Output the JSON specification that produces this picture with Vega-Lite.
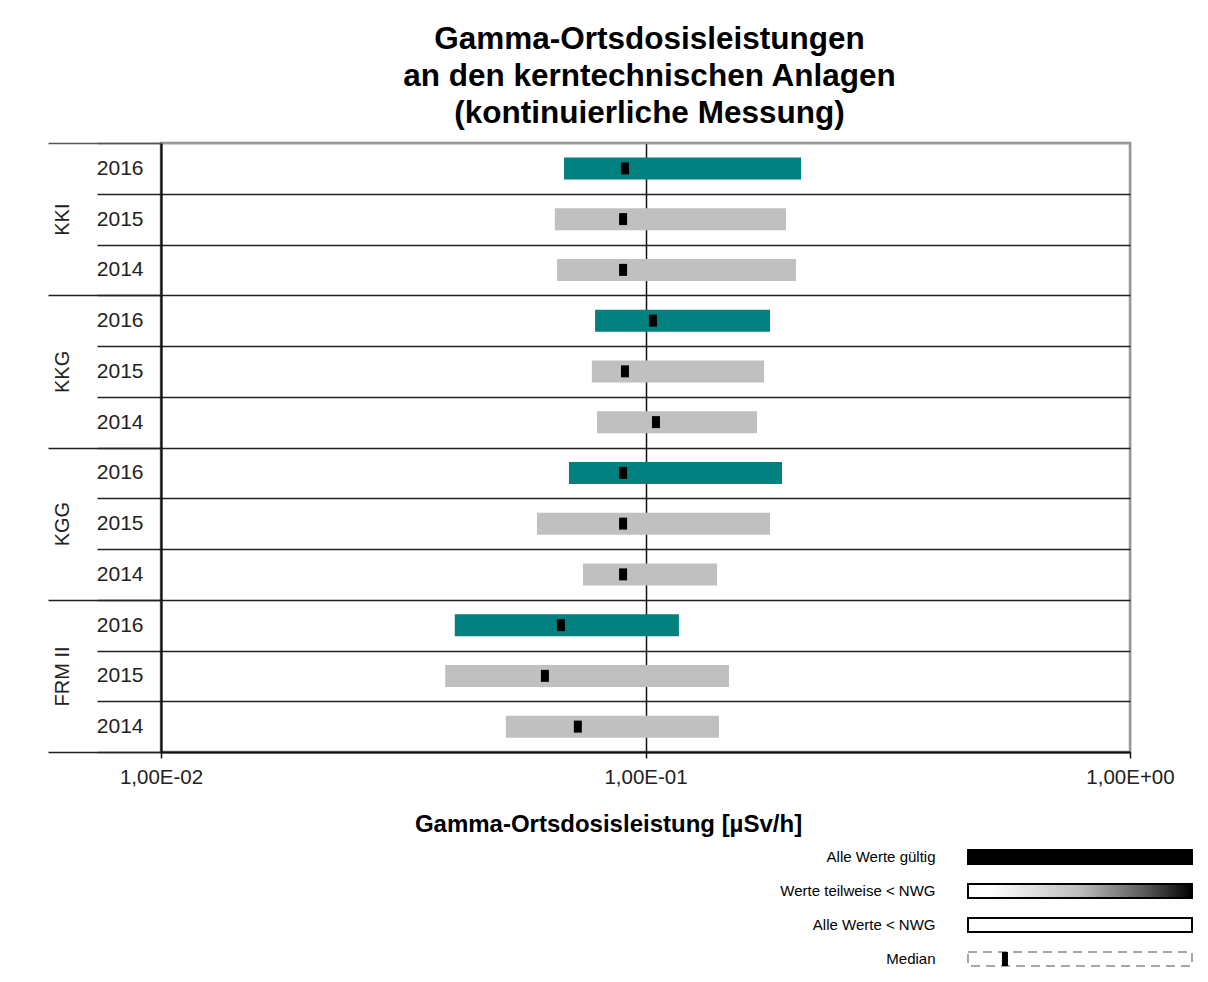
{
  "$schema": "https://vega.github.io/schema/vega-lite/v6.json",
  "padding": {"left": 46, "top": 24, "right": 5, "bottom": 5},
  "title": {
    "text": ["Gamma-Ortsdosisleistungen", "an den kerntechnischen Anlagen", "(kontinuierliche Messung)"],
    "fontSize": 31.5, "fontWeight": "bold", "lineHeight": 37, "anchor": "middle", "offset": 1, "color": "black", "dx": 30
  },
  "bounds": "flush",
  "spacing": 88,
  "vconcat": [
    {
      "width": 969,
      "height": 609,
      "data": {"values": [
        {"Anlage": "KKI", "Jahr": "2016", "Zeile": "KKI 2016", "min": 0.0679, "max": 0.2094, "median": 0.0907},
        {"Anlage": "KKI", "Jahr": "2015", "Zeile": "KKI 2015", "min": 0.0650, "max": 0.1950, "median": 0.0899},
        {"Anlage": "KKI", "Jahr": "2014", "Zeile": "KKI 2014", "min": 0.0657, "max": 0.2045, "median": 0.0899},
        {"Anlage": "KKG", "Jahr": "2016", "Zeile": "KKG 2016", "min": 0.0787, "max": 0.1807, "median": 0.1036},
        {"Anlage": "KKG", "Jahr": "2015", "Zeile": "KKG 2015", "min": 0.0775, "max": 0.1757, "median": 0.0907},
        {"Anlage": "KKG", "Jahr": "2014", "Zeile": "KKG 2014", "min": 0.0794, "max": 0.1699, "median": 0.1051},
        {"Anlage": "KGG", "Jahr": "2016", "Zeile": "KGG 2016", "min": 0.0695, "max": 0.1913, "median": 0.0899},
        {"Anlage": "KGG", "Jahr": "2015", "Zeile": "KGG 2015", "min": 0.0597, "max": 0.1807, "median": 0.0899},
        {"Anlage": "KGG", "Jahr": "2014", "Zeile": "KGG 2014", "min": 0.0743, "max": 0.1405, "median": 0.0899},
        {"Anlage": "FRM II", "Jahr": "2016", "Zeile": "FRM II 2016", "min": 0.0404, "max": 0.1172, "median": 0.0669},
        {"Anlage": "FRM II", "Jahr": "2015", "Zeile": "FRM II 2015", "min": 0.0386, "max": 0.1487, "median": 0.0620},
        {"Anlage": "FRM II", "Jahr": "2014", "Zeile": "FRM II 2014", "min": 0.0515, "max": 0.1418, "median": 0.0725}
      ]},
      "layer": [
        {
          "layer": [
            {
              "mark": {"type": "bar", "size": 22},
              "encoding": {
                "y": {
                  "field": "Zeile", "type": "nominal", "sort": null,
                  "scale": {"domain": ["KKI 2016", "KKI 2015", "KKI 2014", "KKG 2016", "KKG 2015", "KKG 2014", "KGG 2016", "KGG 2015", "KGG 2014", "FRM II 2016", "FRM II 2015", "FRM II 2014"], "paddingInner": 0, "paddingOuter": 0},
                  "axis": {
                    "title": null,
                    "labelExpr": "slice(datum.label, -4)",
                    "tickBand": "extent",
                    "ticks": true,
                    "tickSize": 64,
                    "tickWidth": 1.5,
                    "tickColor": {"condition": {"test": "datum.extra", "value": "#555"}, "value": "#222"},
                    "grid": true,
                    "gridWidth": 1.5,
                    "gridColor": {"condition": {"test": "datum.extra", "value": "#999"}, "value": "#222"},
                    "domain": true,
                    "domainColor": "#111",
                    "domainWidth": 2,
                    "labelPadding": -46,
                    "labelFontSize": 21,
                    "labelColor": "#222",
                    "labelAlign": "right",
                    "labelBaseline": "middle"
                  }
                },
                "x": {
                  "field": "min", "type": "quantitative",
                  "scale": {"type": "log", "domain": [0.01, 1], "nice": false},
                  "axis": {
                    "title": "Gamma-Ortsdosisleistung [µSv/h]",
                    "values": [0.01, 0.1, 1],
                    "labelExpr": "datum.value < 0.05 ? '1,00E-02' : (datum.value < 0.5 ? '1,00E-01' : '1,00E+00')",
                    "grid": true,
                    "gridWidth": 1.5,
                    "gridColor": {"condition": {"test": "datum.value >= 0.5", "value": "#999"}, "value": "#111"},
                    "domainColor": "#111",
                    "domainWidth": 2,
                    "tickColor": "#111",
                    "tickSize": 6,
                    "tickWidth": 1.5,
                    "labelFontSize": 20.5,
                    "labelColor": "#222",
                    "labelPadding": 9,
                    "labelFlush": false,
                    "labelOverlap": false,
                    "titleFontSize": 24,
                    "titleFontWeight": "bold",
                    "titleColor": "black",
                    "titlePadding": 25,
                    "titleX": 447
                  }
                },
                "x2": {"field": "max"},
                "color": {
                  "field": "Jahr", "type": "nominal",
                  "scale": {"domain": ["2016", "2015", "2014"], "range": ["#00807F", "#C0C0C0", "#C0C0C0"]},
                  "legend": null
                }
              }
            },
            {
              "mark": {"type": "tick", "thickness": 8, "size": 12, "color": "black", "opacity": 1},
              "encoding": {
                "y": {"field": "Zeile", "type": "nominal"},
                "x": {"field": "median", "type": "quantitative"}
              }
            }
          ]
        },
        {
          "data": {"values": [{"Anlage": "KKI"}, {"Anlage": "KKG"}, {"Anlage": "KGG"}, {"Anlage": "FRM II"}]},
          "mark": {"type": "bar", "opacity": 0},
          "encoding": {
            "y": {
              "field": "Anlage", "type": "nominal", "sort": null,
              "scale": {"type": "band", "domain": ["KKI", "KKG", "KGG", "FRM II"], "paddingInner": 0, "paddingOuter": 0},
              "axis": {
                "title": null,
                "orient": "left",
                "tickBand": "extent",
                "ticks": true,
                "tickSize": 113,
                "tickWidth": 1.5,
                "tickColor": {"condition": {"test": "datum.extra", "value": "#555"}, "value": "#222"},
                "domain": false,
                "grid": false,
                "labelAngle": -90,
                "labelAlign": "center",
                "labelBaseline": "middle",
                "labelPadding": -14,
                "labelFontSize": 20,
                "labelColor": "#222"
              }
            }
          }
        }
      ],
      "resolve": {"scale": {"y": "independent"}, "axis": {"y": "independent"}}
    },
    {
      "bounds": "flush",
      "spacing": 0,
      "hconcat": [
        {
          "width": 807,
          "height": 136,
          "view": {"stroke": null},
          "data": {"values": [{"a": 1}]},
          "mark": {"type": "point", "opacity": 0},
          "encoding": {}
        },
        {
          "width": 224,
          "height": 136,
          "view": {"stroke": null},
          "data": {"values": [
            {"Eintrag": "Alle Werte gültig", "Art": "voll", "von": 0, "bis": 1},
            {"Eintrag": "Werte teilweise < NWG", "Art": "teil", "von": 0, "bis": 1},
            {"Eintrag": "Alle Werte < NWG", "Art": "leer", "von": 0, "bis": 1},
            {"Eintrag": "Median", "Art": "median", "von": 0, "bis": 1, "median": 0.165}
          ]},
          "encoding": {
            "y": {
              "field": "Eintrag", "type": "nominal", "sort": null,
              "scale": {"domain": ["Alle Werte gültig", "Werte teilweise < NWG", "Alle Werte < NWG", "Median"], "paddingInner": 0, "paddingOuter": 0},
              "axis": {"title": null, "domain": false, "ticks": false, "grid": false, "labelPadding": 33, "labelFontSize": 15, "labelColor": "black", "labelAlign": "right", "labelBaseline": "middle"}
            }
          },
          "layer": [
            {
              "transform": [{"filter": "datum.Art === 'voll'"}],
              "mark": {"type": "bar", "size": 14, "fill": "black", "stroke": "black", "strokeWidth": 2},
              "encoding": {
                "x": {"field": "von", "type": "quantitative", "scale": {"domain": [0, 1], "nice": false}, "axis": null},
                "x2": {"field": "bis"}
              }
            },
            {
              "transform": [{"filter": "datum.Art === 'teil'"}],
              "mark": {"type": "bar", "size": 14, "stroke": "black", "strokeWidth": 2,
                "fill": {"gradient": "linear", "x1": 0, "y1": 0, "x2": 1, "y2": 0, "stops": [
                  {"offset": 0, "color": "#ffffff"}, {"offset": 0.1, "color": "#ffffff"}, {"offset": 0.5, "color": "#bdbdbd"}, {"offset": 0.8, "color": "#555555"}, {"offset": 1, "color": "#000000"}
                ]}},
              "encoding": {
                "x": {"field": "von", "type": "quantitative", "axis": null},
                "x2": {"field": "bis"}
              }
            },
            {
              "transform": [{"filter": "datum.Art === 'leer'"}],
              "mark": {"type": "bar", "size": 14, "fill": "white", "stroke": "black", "strokeWidth": 2},
              "encoding": {
                "x": {"field": "von", "type": "quantitative", "axis": null},
                "x2": {"field": "bis"}
              }
            },
            {
              "transform": [{"filter": "datum.Art === 'median'"}],
              "mark": {"type": "bar", "size": 14, "fill": "white", "fillOpacity": 0, "stroke": "#8a8a8a", "strokeWidth": 1.5, "strokeDash": [9, 6]},
              "encoding": {
                "x": {"field": "von", "type": "quantitative", "axis": null},
                "x2": {"field": "bis"}
              }
            },
            {
              "transform": [{"filter": "datum.Art === 'median'"}],
              "mark": {"type": "tick", "thickness": 6, "size": 14, "color": "black", "opacity": 1},
              "encoding": {
                "x": {"field": "median", "type": "quantitative", "axis": null}
              }
            }
          ]
        }
      ]
    }
  ],
  "config": {
    "font": "Liberation Sans",
    "view": {"stroke": "#999", "strokeWidth": 2.5},
    "axis": {"labelFont": "Liberation Sans", "titleFont": "Liberation Sans"},
    "title": {"font": "Liberation Sans"}
  }
}
